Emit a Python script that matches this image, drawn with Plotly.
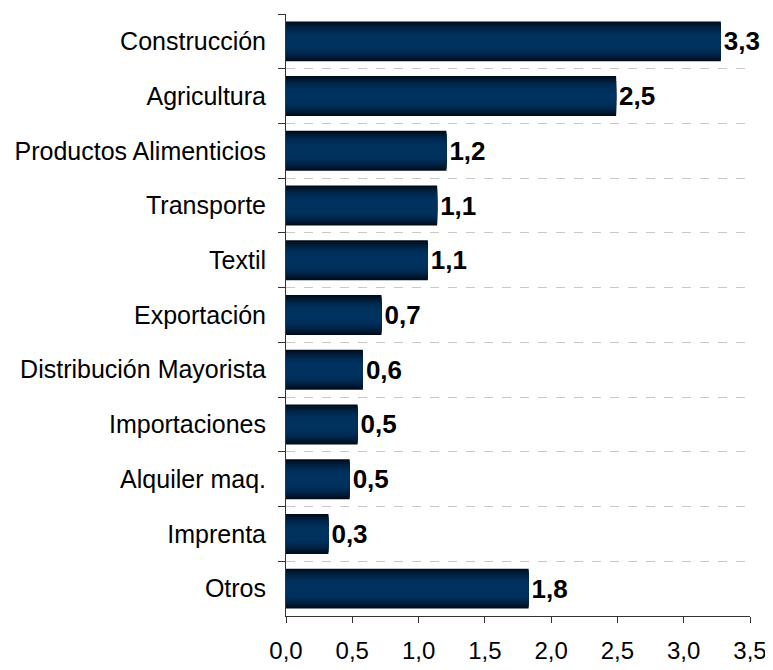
import plotly.graph_objects as go

sectores = [
    "Construcción",
    "Agricultura",
    "Productos Alimenticios",
    "Transporte",
    "Textil",
    "Exportación",
    "Distribución Mayorista",
    "Importaciones",
    "Alquiler maq.",
    "Imprenta",
    "Otros",
]
valores = [3.28, 2.49, 1.21, 1.14, 1.07, 0.72, 0.58, 0.54, 0.48, 0.32, 1.83]

# bar gradient: dark navy at the edges, lighter in the middle
n_capas = 12
oscuro = (0, 12, 28)
claro = (0, 50, 96)
ancho = 0.73

fig = go.Figure()
for k in range(n_capas):
    t = k / (n_capas - 1)
    mezcla = 1 - (1 - t) ** 2.2
    color = "rgb({},{},{})".format(
        *[round(a + (b - a) * mezcla) for a, b in zip(oscuro, claro)]
    )
    fig.add_trace(
        go.Bar(
            y=sectores,
            x=valores,
            orientation="h",
            width=ancho * (1 - 0.85 * t),
            marker=dict(color=color, line=dict(width=0)),
            texttemplate="%{x:.1f}" if k == 0 else None,
            textposition="outside" if k == 0 else "none",
            textfont=dict(family="Liberation Sans", size=26, color="black", weight="bold"),
            cliponaxis=False,
            hoverinfo="skip",
            showlegend=False,
        )
    )

# the page body adds an 8px offset, so the figure is a bit smaller than the window
fig.update_layout(
    barmode="overlay",
    width=765,
    height=662,
    margin=dict(l=278, r=20, t=6, b=51),
    plot_bgcolor="white",
    paper_bgcolor="white",
    separators=",.",
    font=dict(family="Liberation Sans", size=25, color="black"),
)
fig.update_xaxes(
    range=[0, 3.5],
    dtick=0.5,
    tickformat=".1f",
    showgrid=False,
    zeroline=False,
    showline=True,
    linecolor="#333333",
    linewidth=1,
    ticks="outside",
    ticklen=6,
    tickcolor="#333333",
    tickfont=dict(size=24),
    ticklabelstandoff=7,
)
fig.update_yaxes(
    autorange="reversed",
    tickson="boundaries",
    ticks="outside",
    ticklen=7,
    tickcolor="#333333",
    showline=True,
    linecolor="#333333",
    linewidth=1,
    showgrid=True,
    gridcolor="#c8c8c8",
    griddash="dash",
    gridwidth=1,
    tickfont=dict(size=25),
    ticklabelstandoff=14,
)

fig.write_html("out.html")
